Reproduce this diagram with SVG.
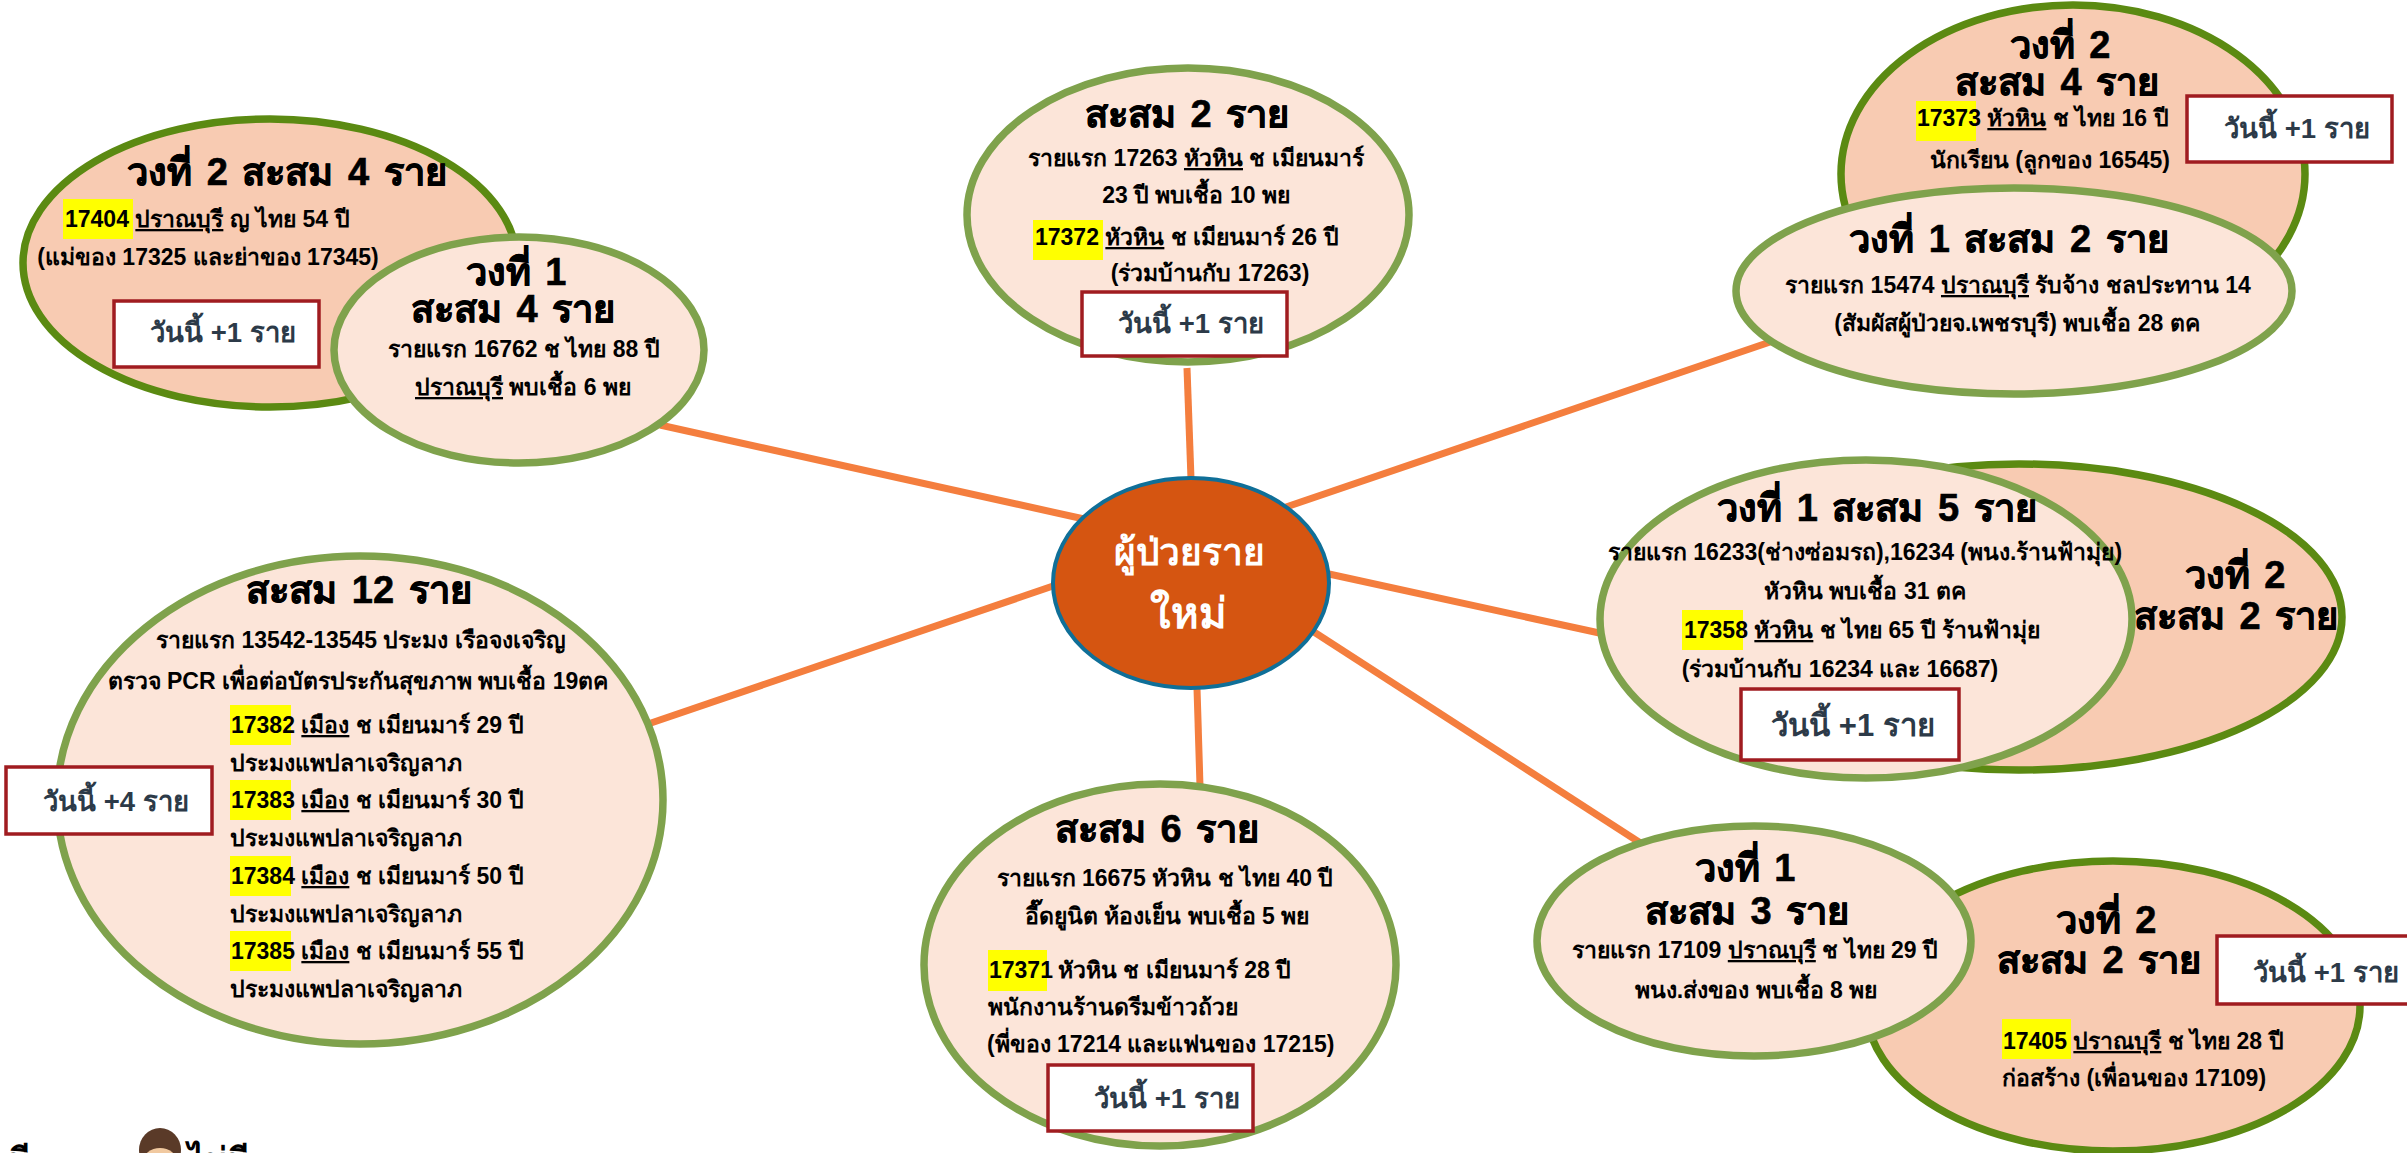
<svg xmlns="http://www.w3.org/2000/svg" width="2407" height="1153" viewBox="0 0 2407 1153">
<style>
text{font-family:"Liberation Sans","Noto Sans",sans-serif;font-weight:bold;fill:#000}
.t{font-size:38px;text-anchor:middle;word-spacing:4px;stroke:#000;stroke-width:.6px}
.b{font-size:23px}
.m{text-anchor:middle}
.x{font-size:27.5px;text-anchor:middle;fill:#2c3a48}
.c{font-size:37px;text-anchor:middle;fill:#fff}
.u{text-decoration:underline}
.o1{fill:#fce5d9;stroke:#7fa24c;stroke-width:7.5}
.o2{fill:#f8cbb2;stroke:#5b8a12;stroke-width:7.5}
.box{fill:#fff;stroke:#a01c20;stroke-width:3.5}
.y{fill:#ffff00}
.l{stroke:#f47e3e;stroke-width:7;fill:none}
</style>
<g id="connectors">
<line class="l" x1="660" y1="425" x2="1084" y2="519"/>
<line class="l" x1="1187" y1="368" x2="1191" y2="479"/>
<line class="l" x1="1286" y1="507" x2="1773" y2="341"/>
<line class="l" x1="1329" y1="574" x2="1604" y2="634"/>
<line class="l" x1="1314" y1="632" x2="1642" y2="844"/>
<line class="l" x1="1197" y1="688" x2="1200" y2="786"/>
<line class="l" x1="1053" y1="586" x2="651" y2="723"/>
</g>
<g id="node-l2-left">
<ellipse class="o2" cx="270" cy="263" rx="247" ry="144"/>
<text class="t" x="287" y="185">วงที่ 2 สะสม 4 ราย</text>
<rect class="y" x="63" y="199" width="70" height="40"/>
<text class="b" x="65" y="227">17404 <tspan class="u">ปราณบุรี</tspan> ญ ไทย 54 ปี</text>
<text class="b m" x="208" y="265">(แม่ของ 17325 และย่าของ 17345)</text>
<rect class="box" x="114" y="301" width="205" height="66"/>
<text class="x" x="223" y="342">วันนี้ +1 ราย</text>
</g>
<g id="node-l1-left">
<ellipse class="o1" cx="519" cy="350" rx="185" ry="113"/>
<text class="t" x="516" y="285">วงที่ 1</text>
<text class="t" x="513" y="322">สะสม 4 ราย</text>
<text class="b m" x="524" y="357">รายแรก 16762 ช ไทย 88 ปี</text>
<text class="b m" x="523" y="395"><tspan class="u">ปราณบุรี</tspan> พบเชื้อ 6 พย</text>
</g>
<g id="node-top">
<ellipse class="o1" cx="1188" cy="215" rx="221" ry="147"/>
<text class="t" x="1187" y="127">สะสม 2 ราย</text>
<text class="b m" x="1196" y="166">รายแรก 17263 <tspan class="u">หัวหิน</tspan> ช เมียนมาร์</text>
<text class="b m" x="1196" y="203">23 ปี พบเชื้อ 10 พย</text>
<rect class="y" x="1033" y="220" width="70" height="40"/>
<text class="b" x="1035" y="245">17372 <tspan class="u">หัวหิน</tspan> ช เมียนมาร์ 26 ปี</text>
<text class="b m" x="1210" y="281">(ร่วมบ้านกับ 17263)</text>
<rect class="box" x="1082" y="292" width="205" height="64"/>
<text class="x" x="1191" y="333">วันนี้ +1 ราย</text>
</g>
<g id="node-l2-topright">
<ellipse class="o2" cx="2073" cy="174" rx="232" ry="169"/>
<text class="t" x="2060" y="58">วงที่ 2</text>
<text class="t" x="2057" y="95">สะสม 4 ราย</text>
<rect class="y" x="1916" y="101" width="60" height="40"/>
<text class="b" x="1917" y="126">17373 <tspan class="u">หัวหิน</tspan> ช ไทย 16 ปี</text>
<text class="b m" x="2050" y="168">นักเรียน (ลูกของ 16545)</text>
<rect class="box" x="2187" y="96" width="205" height="66"/>
<text class="x" x="2297" y="138">วันนี้ +1 ราย</text>
</g>
<g id="node-l1-topright">
<ellipse class="o1" cx="2014" cy="291" rx="278" ry="103"/>
<text class="t" x="2009" y="252">วงที่ 1 สะสม 2 ราย</text>
<text class="b m" x="2018" y="293">รายแรก 15474 <tspan class="u">ปราณบุรี</tspan> รับจ้าง ชลประทาน 14</text>
<text class="b m" x="2017" y="331">(สัมผัสผู้ป่วยจ.เพชรบุรี) พบเชื้อ 28 ตค</text>
</g>
<g id="node-l2-right">
<ellipse class="o2" cx="2019" cy="617" rx="323" ry="153"/>
<text class="t" x="2235" y="588">วงที่ 2</text>
<text class="t" x="2236" y="629">สะสม 2 ราย</text>
</g>
<g id="node-l1-right">
<ellipse class="o1" cx="1866" cy="619" rx="266" ry="159"/>
<text class="t" x="1877" y="521">วงที่ 1 สะสม 5 ราย</text>
<text class="b m" x="1865" y="560">รายแรก 16233(ช่างซ่อมรถ),16234 (พนง.ร้านฟ้ามุ่ย)</text>
<text class="b m" x="1865" y="599">หัวหิน พบเชื้อ 31 ตค</text>
<rect class="y" x="1682" y="610" width="61" height="40"/>
<text class="b" x="1684" y="638">17358 <tspan class="u">หัวหิน</tspan> ช ไทย 65 ปี ร้านฟ้ามุ่ย</text>
<text class="b m" x="1840" y="677">(ร่วมบ้านกับ 16234 และ 16687)</text>
<rect class="box" x="1741" y="689" width="218" height="71"/>
<text class="x" style="font-size:31px" x="1853" y="736">วันนี้ +1 ราย</text>
</g>
<g id="node-l2-lowerright">
<ellipse class="o2" cx="2113" cy="1006" rx="247" ry="145"/>
<text class="t" x="2106" y="933">วงที่ 2</text>
<text class="t" x="2099" y="973">สะสม 2 ราย</text>
<rect class="y" x="2002" y="1019" width="69" height="40"/>
<text class="b" x="2003" y="1049">17405 <tspan class="u">ปราณบุรี</tspan> ช ไทย 28 ปี</text>
<text class="b" x="2002" y="1086">ก่อสร้าง (เพื่อนของ 17109)</text>
<rect class="box" x="2217" y="936" width="200" height="68"/>
<text class="x" x="2326" y="982">วันนี้ +1 ราย</text>
</g>
<g id="node-l1-lowerright">
<ellipse class="o1" cx="1754" cy="941" rx="217" ry="115"/>
<text class="t" x="1745" y="881">วงที่ 1</text>
<text class="t" x="1747" y="924">สะสม 3 ราย</text>
<text class="b m" x="1755" y="958">รายแรก 17109 <tspan class="u">ปราณบุรี</tspan> ช ไทย 29 ปี</text>
<text class="b m" x="1756" y="998">พนง.ส่งของ พบเชื้อ 8 พย</text>
</g>
<g id="node-bottom">
<ellipse class="o1" cx="1160" cy="965" rx="236" ry="181"/>
<text class="t" x="1157" y="842">สะสม 6 ราย</text>
<text class="b m" x="1165" y="886">รายแรก 16675 หัวหิน ช ไทย 40 ปี</text>
<text class="b m" x="1167" y="924">อี๊ดยูนิต ห้องเย็น พบเชื้อ 5 พย</text>
<rect class="y" x="988" y="950" width="59" height="41"/>
<text class="b" x="989" y="978">17371</text>
<text class="b" x="1058" y="978">หัวหิน ช เมียนมาร์ 28 ปี</text>
<text class="b" x="988" y="1015">พนักงานร้านดรีมข้าวถ้วย</text>
<text class="b" x="987" y="1052">(พี่ของ 17214 และแฟนของ 17215)</text>
<rect class="box" x="1048" y="1065" width="205" height="66"/>
<text class="x" x="1167" y="1108">วันนี้ +1 ราย</text>
</g>
<g id="node-left">
<ellipse class="o1" cx="360" cy="800" rx="303" ry="244"/>
<text class="t" x="359" y="603">สะสม 12 ราย</text>
<text class="b m" x="361" y="648">รายแรก 13542-13545 ประมง เรือจงเจริญ</text>
<text class="b m" x="358" y="689">ตรวจ PCR เพื่อต่อบัตรประกันสุขภาพ พบเชื้อ 19ตค</text>
<rect class="y" x="230" y="705" width="61" height="40"/>
<text class="b" x="231" y="733">17382 <tspan class="u">เมือง</tspan> ช เมียนมาร์ 29 ปี</text>
<text class="b" x="230" y="771">ประมงแพปลาเจริญลาภ</text>
<rect class="y" x="230" y="780" width="61" height="40"/>
<text class="b" x="231" y="808">17383 <tspan class="u">เมือง</tspan> ช เมียนมาร์ 30 ปี</text>
<text class="b" x="230" y="846">ประมงแพปลาเจริญลาภ</text>
<rect class="y" x="230" y="856" width="61" height="40"/>
<text class="b" x="231" y="884">17384 <tspan class="u">เมือง</tspan> ช เมียนมาร์ 50 ปี</text>
<text class="b" x="230" y="922">ประมงแพปลาเจริญลาภ</text>
<rect class="y" x="230" y="931" width="61" height="40"/>
<text class="b" x="231" y="959">17385 <tspan class="u">เมือง</tspan> ช เมียนมาร์ 55 ปี</text>
<text class="b" x="230" y="997">ประมงแพปลาเจริญลาภ</text>
<rect class="box" x="6" y="767" width="206" height="67"/>
<text class="x" x="116" y="811">วันนี้ +4 ราย</text>
</g>
<g id="node-center">
<ellipse cx="1191" cy="583" rx="138" ry="105" fill="#d55511" stroke="#0f6f98" stroke-width="4"/>
<text class="c" x="1189" y="565">ผู้ป่วยราย</text>
<text class="c" style="font-size:42px" x="1188" y="628">ใหม่</text>
</g>
<g id="footer">
<text style="font-size:34px" x="8" y="1172">มี</text>
<text style="font-size:34px" x="188" y="1172">ไม่มี</text>
<ellipse cx="160" cy="1150" rx="21" ry="22" fill="#5a3a28"/>
<ellipse cx="160" cy="1162" rx="17" ry="14" fill="#f1c9a0"/>
</g>
</svg>
